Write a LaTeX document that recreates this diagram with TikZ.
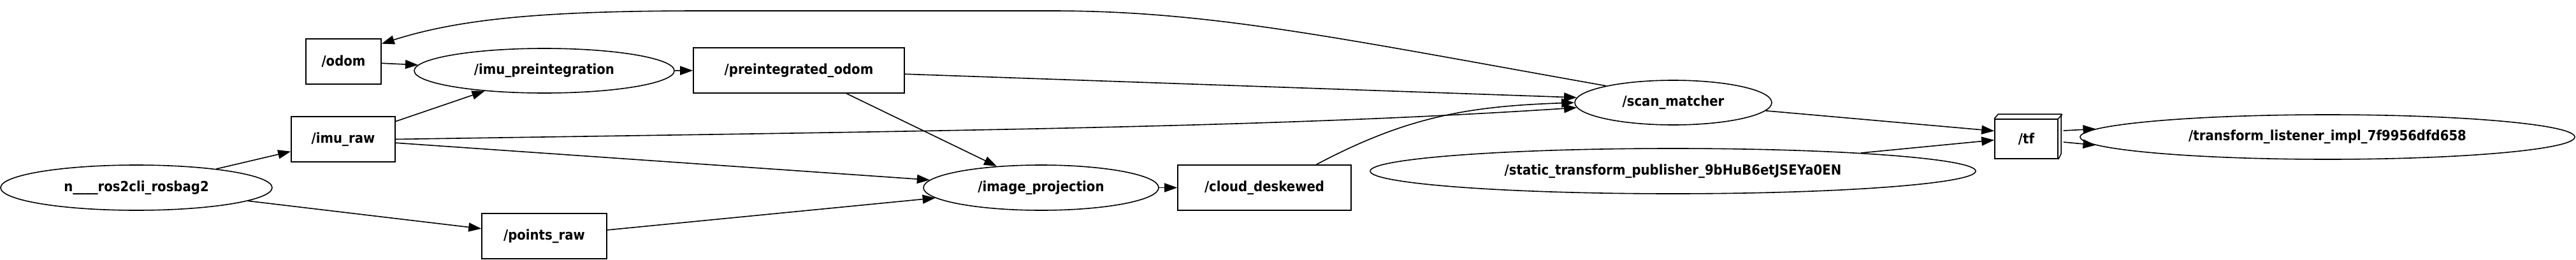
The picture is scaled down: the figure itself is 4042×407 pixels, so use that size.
\documentclass[tikz,border=0pt]{standalone}
\usepackage{fontspec}
\setmainfont{DejaVu Sans}[FakeStretch=0.9]
\usetikzlibrary{arrows.meta, shapes.geometric}

\def\graphfont{\bfseries\fontsize{21.9}{26}\selectfont}

\begin{document}
\begin{tikzpicture}[x=1pt, y=-1pt, line width=1.6pt,
		>={Triangle[length=20pt, width=14pt]},
		topic/.style={draw, rectangle, minimum height=71pt, inner sep=0pt, font=\graphfont},
		rosnode/.style={draw, ellipse, minimum height=71pt, inner sep=0pt, font=\graphfont}]
	\useasboundingbox (0,0) rectangle (4042,407);

	% nodes and topics
	\node[rosnode, minimum width=426pt] (rosbag) at (214,294.5) {n\_\_\_\_ros2cli\_rosbag2};
	\node[topic, minimum width=118pt] (odom) at (539,96.5) {/odom};
	\node[topic, minimum width=163pt] (imuraw) at (538.5,218.5) {/imu\_raw};
	\node[rosnode, minimum width=408pt, minimum height=70pt] (imupre) at (854,111) {/imu\_preintegration};
	\node[topic, minimum width=196pt] (pointsraw) at (854,370.5) {/points\_raw};
	\node[topic, minimum width=331pt] (preodom) at (1253.5,110.5) {/preintegrated\_odom};
	\node[rosnode, minimum width=369pt] (imageproj) at (1633.5,294.5) {/image\_projection};
	\node[topic, minimum width=272pt] (cloud) at (1984,294.5) {/cloud\_deskewed};
	\node[rosnode, minimum width=309pt, minimum height=70pt] (scan) at (2625.5,161) {/scan\_matcher};
	\node[rosnode, minimum width=950pt] (static) at (2625,268.5) {/static\_transform\_publisher\_9bHuB6etJSEYa0EN};
	\node[topic, minimum width=99pt, minimum height=62pt] (tf) at (3179.5,218) {/tf};
	\draw (tf.north west) -- ++(6,-7) -- ++(99,0) -- ++(0,62) -- (tf.south east);
	\draw (tf.north east) -- ++(6,-7);
	\node[rosnode, minimum width=776pt, minimum height=70pt] (listener) at (3652,215) {/transform\_listener\_impl\_7f9956dfd658};

	% connections
	\draw[->] (rosbag) -- (imuraw);
	\draw[->] (rosbag) -- (pointsraw);
	\draw[->] (odom) -- (imupre);
	\draw[->] (imuraw) -- (imupre);
	\draw[->] (imuraw.east) .. controls (1500,205) and (2000,200) .. (scan.183);
	\draw[->] (imuraw) -- (imageproj);
	\draw[->] (pointsraw) -- (imageproj);
	\draw[->] (imupre) -- (preodom);
	\draw[->] (preodom) -- (imageproj);
	\draw[->] (preodom) -- (scan.177);
	\draw[->] (imageproj) -- (cloud);
	\draw[->] (cloud.24) to[out=28, in=182] (scan.west);
	\draw[->] (scan.166) .. controls (2100,60) and (1900,17) .. (1650,17) -- (1100,17)
		.. controls (850,17) and (720,30) .. (odom.25);
	\draw[->] (scan) -- (tf.166);
	\draw[->] (static) -- (tf.182);
	\draw[->] ([xshift=8pt, yshift=13pt]tf.east) -- (listener.178);
	\draw[->] ([xshift=8pt, yshift=-5pt]tf.east) -- (listener.182);
\end{tikzpicture}
\end{document}
